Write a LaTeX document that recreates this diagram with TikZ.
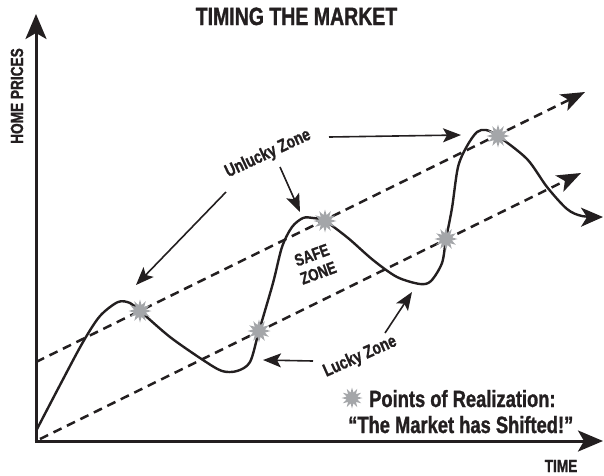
\documentclass[tikz,border=0pt]{standalone}
\usepackage{fontspec}
\newfontfamily\cond[FakeStretch=0.78, BoldFeatures={FakeBold=1.2}]{Liberation Sans}
\usetikzlibrary{arrows.meta,shapes.geometric}
\definecolor{ink}{HTML}{231F20}
\definecolor{stargrey}{HTML}{A4A6A9}
\tikzset{
  lbl/.style={inner sep=0pt, text=ink, font=\cond\bfseries},
  axisline/.style={draw=ink, line width=3pt, -{Stealth[length=25pt,width=21pt,inset=6pt]}},
  trend/.style={draw=ink, line width=2.5pt, dash pattern=on 9pt off 6pt, -{Stealth[length=24pt,width=18pt,inset=6pt]}},
  price/.style={draw=ink, line width=2.4pt, line join=round, -{Stealth[length=22pt,width=19pt,inset=6pt]}},
  note/.style={draw=ink, line width=1.6pt, -{Stealth[length=18pt,width=14pt,inset=4pt]}},
  burst/.style={star, star points=12, star point ratio=1.9, fill=stargrey, draw=none, inner sep=0pt, minimum size=23pt},
}
\begin{document}
\begin{tikzpicture}[x=1pt, y=-1pt]
\path[use as bounding box] (0,0) rectangle (604,475);
% axes
\coordinate (O) at (36,441);
\coordinate (ytip) at (36,14);
\coordinate (xtip) at (603,441);
\draw[axisline] (36,442.5) -- (ytip);
\draw[axisline] (34.5,441) -- (xtip);
% trend lines
\coordinate (u0) at (36,362);
\coordinate (u1) at (585,92);
\coordinate (l0) at (40,439);
\coordinate (l1) at (581,173);
\draw[trend] (u0) -- (u1);
\draw[trend] (l0) -- (l1);
% price curve
\draw[price] plot[smooth, tension=0.5] coordinates {
 (36,431) (60,385) (83,342) (100,316) (118,302) (130,303) (140,311)
 (170,337) (203,360) (222,371) (237,371) (250,362) (259,331)
 (273,283) (282,247) (292,227) (303,218) (313,218) (325,221)
 (348,238) (373,260) (397,277) (420,284) (431,281) (442,263) (446,239)
 (452,208) (458,167) (467,146) (477,132) (486,130) (498,136)
 (527,159) (547,187) (567,209) (582,216) (603,217)};
% points of realization
\node[burst] (s1) at (140,311) {};
\node[burst] (s2) at (325,221) {};
\node[burst] (s3) at (259,331) {};
\node[burst] (s4) at (446,239) {};
\node[burst] (s5) at (498,136) {};
% texts
\node[lbl, font=\cond\bfseries\fontsize{25}{25}\selectfont, anchor=base] (title) at (296.5,25) {TIMING THE MARKET};
\node[lbl, font=\cond\bfseries\fontsize{17.5}{17}\selectfont, anchor=base, rotate=90] (yl) at (23,96) {HOME PRICES};
\node[lbl, font=\cond\bfseries\fontsize{17.5}{17}\selectfont, anchor=base] (xl) at (561,472) {TIME};
\node[lbl, font=\cond\bfseries\fontsize{18}{18}\selectfont, anchor=base, rotate=25] (unl) at (270,158) {Unlucky Zone};
\node[lbl, font=\cond\bfseries\fontsize{18}{18}\selectfont, anchor=base, rotate=24] (luck) at (362,361) {Lucky Zone};
\node[lbl, font=\cond\bfseries\fontsize{17}{19}\selectfont, align=center, rotate=20] (safe) at (315,264) {SAFE\\ZONE};
\node[burst, minimum size=21pt] (leg) at (352,398) {};
\node[lbl, font=\cond\bfseries\fontsize{23.5}{24}\selectfont, anchor=base west] (p1) at (369,407) {Points of Realization:};
\node[lbl, font=\cond\bfseries\fontsize{23.5}{24}\selectfont, anchor=base west] (p2) at (348,433) {“The Market has Shifted!”};
% annotation arrows
\coordinate (a1s) at (226,192); \coordinate (a1e) at (136,285);
\coordinate (a2s) at (280,167); \coordinate (a2e) at (300,212);
\coordinate (a3s) at (329,137); \coordinate (a3e) at (461,135);
\coordinate (b1s) at (313,361); \coordinate (b1e) at (263,360);
\coordinate (b2s) at (385,333); \coordinate (b2e) at (412,292);
\draw[note] (a1s) -- (a1e);
\draw[note] (a2s) -- (a2e);
\draw[note] (a3s) -- (a3e);
\draw[note] (b1s) -- (b1e);
\draw[note] (b2s) -- (b2e);
\end{tikzpicture}
\end{document}
